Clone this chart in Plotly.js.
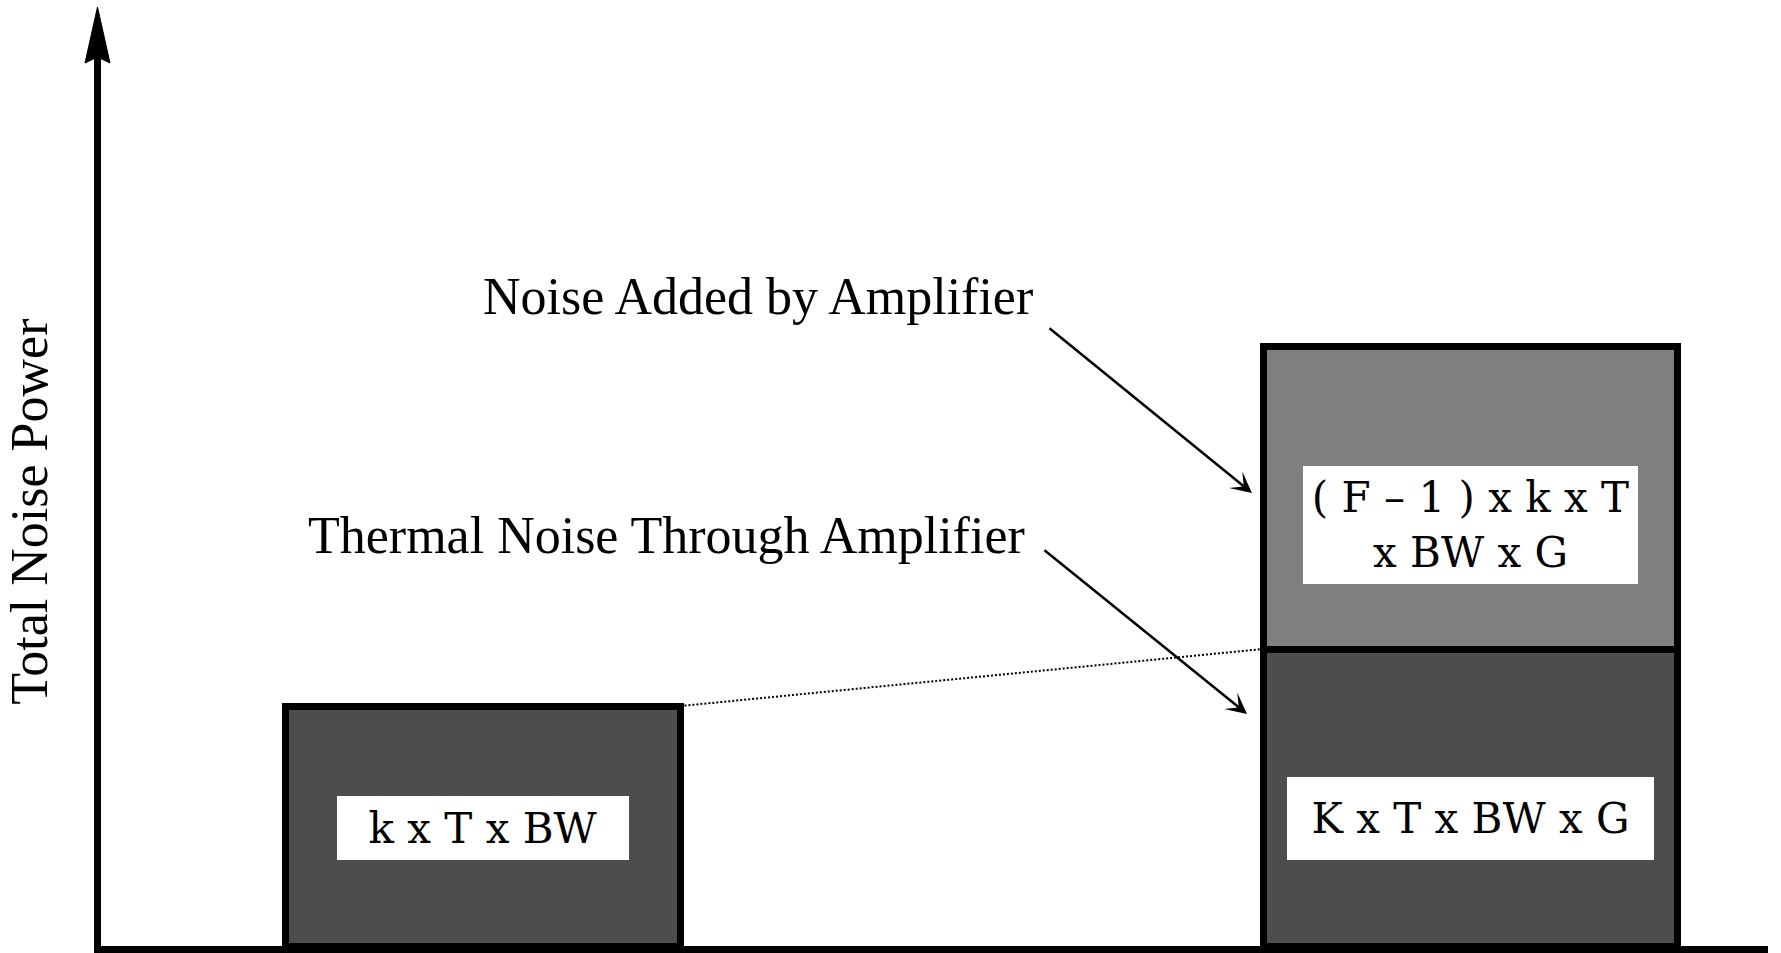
<!DOCTYPE html>
<html>
<head>
<meta charset="utf-8">
<script src="https://cdn.plot.ly/plotly-3.0.1.min.js"></script>
<style>
  html, body { margin: 0; padding: 0; background: #fff; }
  #plotArea { width: 1781px; height: 953px; }
</style>
</head>
<body>
<div id="plotArea"></div>
<script>
// noise power blocks, before and after the amplifier
var categories = ["Input", "Output"];
var thermalNoise = [4, 4.95];        // k T BW  /  k T BW G
var addedCategories = ["Output"];
var addedNoise = [5.05];             // (F - 1) k T BW G

var boxTexts = ["k x T x BW", "K x T x BW x G", "( F \u2013 1 ) x k x T<br>x BW x G"];
var yTitle = "Total Noise Power";
var addedLabel = "Noise Added by Amplifier";
var thermalLabel = "Thermal Noise Through Amplifier";

var barWidths = [0.40, 0.42];
var labelFont = {family: "Liberation Serif, serif", size: 52, color: "#000"};
var boxFont = {family: "DejaVu Serif, serif", size: 42, color: "#000"};

var trace1 = {
    x: categories,
    y: thermalNoise,
    width: barWidths,
    type: "bar",
    marker: {color: "#4d4d4d", line: {color: "#000", width: 7}},
    hoverinfo: "skip"
};

var trace2 = {
    x: addedCategories,
    y: addedNoise,
    width: [barWidths[1]],
    type: "bar",
    marker: {color: "#7f7f7f", line: {color: "#000", width: 7}},
    hoverinfo: "skip"
};

var data = [trace1, trace2];

var layout = {
    width: 1781,
    height: 953,
    margin: {l: 101, r: 13, t: 30, b: 7},
    paper_bgcolor: "#fff",
    plot_bgcolor: "#fff",
    showlegend: false,
    barmode: "stack",
    xaxis: {
        type: "category",
        range: [-0.3868, 1.3013],
        showline: true, linewidth: 7, linecolor: "#000",
        showgrid: false, zeroline: false, showticklabels: false, ticks: ""
    },
    yaxis: {
        range: [0, 916 / 60],
        showline: true, linewidth: 7, linecolor: "#000",
        showgrid: false, zeroline: false, showticklabels: false, ticks: ""
    },
    shapes: [
        // dotted link between the two thermal noise levels
        {
            type: "line", xref: "x", yref: "y", layer: "above",
            x0: 0 + barWidths[0] / 2, y0: thermalNoise[0],
            x1: 1 - barWidths[1] / 2, y1: thermalNoise[1],
            line: {color: "#000", width: 2, dash: "2px,2px"}
        },
        // arrow head on top of the y axis
        {
            type: "path", xref: "paper", yref: "paper",
            xsizemode: "pixel", ysizemode: "pixel", xanchor: 0, yanchor: 1,
            path: "M-3.5,23 L9,-33 L-3.5,-27 L-16,-33 Z",
            fillcolor: "#000", line: {color: "#000", width: 1}
        }
    ],
    annotations: [
        {
            text: yTitle, textangle: -90, showarrow: false,
            xref: "paper", yref: "paper", x: -0.0426, y: 0.474,
            xanchor: "center", yanchor: "middle", font: labelFont
        },
        {
            text: addedLabel, showarrow: false,
            xref: "paper", yref: "paper", x: 0.5603, y: 0.709,
            xanchor: "right", yanchor: "middle", font: labelFont
        },
        {
            text: thermalLabel, showarrow: false,
            xref: "paper", yref: "paper", x: 0.5555, y: 0.448,
            xanchor: "right", yanchor: "middle", font: labelFont
        },
        {
            text: "", xref: "x", yref: "y", x: 0.7787, y: 7.55,
            showarrow: true, ax: -204, ay: -166,
            arrowhead: 3, arrowsize: 1.4, arrowwidth: 2.5, arrowcolor: "#000"
        },
        {
            text: "", xref: "x", yref: "y", x: 0.7737, y: 3.867,
            showarrow: true, ax: -204, ay: -165,
            arrowhead: 3, arrowsize: 1.4, arrowwidth: 2.5, arrowcolor: "#000"
        },
        {
            text: boxTexts[0], showarrow: false, xref: "x", yref: "y",
            x: categories[0], y: 1.967, width: 292, height: 64,
            bgcolor: "#fff", borderpad: 0, borderwidth: 0, font: boxFont
        },
        {
            text: boxTexts[1], showarrow: false, xref: "x", yref: "y",
            x: categories[1], y: 2.125, width: 367, height: 83,
            bgcolor: "#fff", borderpad: 0, borderwidth: 0, font: boxFont
        },
        {
            text: boxTexts[2], showarrow: false, xref: "x", yref: "y",
            x: categories[1], y: 7.017, width: 335, height: 118,
            bgcolor: "#fff", borderpad: 0, borderwidth: 0, font: boxFont
        }
    ]
};

Plotly.newPlot("plotArea", data, layout, {displayModeBar: false, staticPlot: true});
</script>
</body>
</html>
